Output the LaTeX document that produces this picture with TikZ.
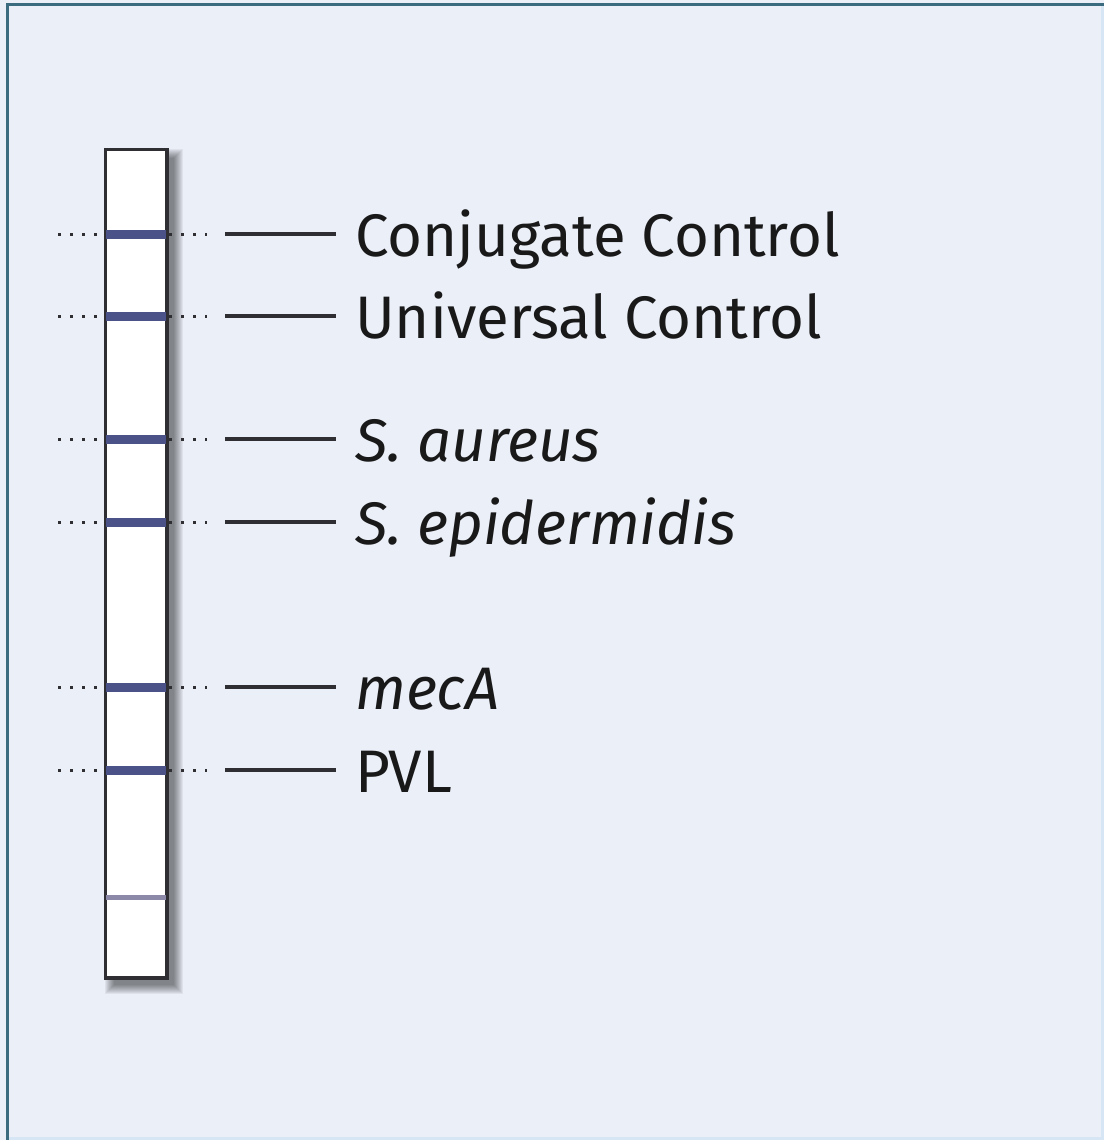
\documentclass[tikz,border=0pt]{standalone}
\usepackage{fontspec}
\setmainfont{Fira Sans}
\definecolor{bgblue}{HTML}{EBEFF8}
\definecolor{frameteal}{HTML}{3B6B7E}
\definecolor{framelight}{HTML}{D6E6F4}
\definecolor{bandblue}{HTML}{4B5287}
\definecolor{bandpale}{HTML}{8C89A8}
\definecolor{inkgrey}{HTML}{2E2E33}
\tikzset{strip/.style={draw=inkgrey,line width=2.5pt,fill=white,minimum width=60pt,
		minimum height=827pt,inner sep=0pt},
	band/.style={bandblue,line width=9pt},
	dots/.style={inkgrey,line width=3pt,dash pattern=on 3pt off 9pt},
	leader/.style={inkgrey,line width=3.4pt},
	tag/.style={anchor=base west,inner sep=0pt,text=black!90,
		font=\fontsize{60}{64}\selectfont}}

\begin{document}
\begin{tikzpicture}
	[x=1pt,y=-1pt]

	% background and frame
	\fill[bgblue] (0,0) rectangle (1104,1140);
	\useasboundingbox (0,0) rectangle (1104,1140);
	\draw[framelight,line width=3pt] (1102,5) -- (1102,1138) -- (7,1138);
	\draw[frameteal,line width=3pt] (7,1140) -- (7,5) -- (1104,5);

	% soft shadow of the strip
	\foreach \s in {0,...,9}
		\fill[black,opacity=0.055] (114-\s,158-\s) rectangle (174+\s,985+\s);

	\node[strip] (strip) at (136,563.5) {};

	\foreach \name/\y/\txt in {cc/234/{Conjugate Control},
			uc/316/{Universal Control},
			sa/439/{\itshape S. aureus},
			se/522/{\itshape S. epidermidis},
			mec/687/{\itshape mecA},
			pvl/770/{PVL}}
		{
			\draw[band] (strip.west |- 0,\y) -- (strip.east |- 0,\y);
			\coordinate (\name-l) at (58,\y);
			\coordinate (\name-r) at (207,\y);
			\coordinate (\name-s) at (225,\y);
			\draw[dots] (\name-l) -- (strip.west |- \name-l);
			\draw[dots] ([xshift=2pt]strip.east |- \name-r) -- (\name-r);
			\node[tag] (\name) at (355,\y+22) {\txt};
			\draw[leader] (\name-s) -- ([xshift=-19pt]\name.west |- \name-s);
		}

	% faint line near the bottom
	\draw[bandpale,line width=5pt] (strip.west |- 0,897) -- (strip.east |- 0,897);
	\draw[inkgrey,line width=2.5pt] (strip.south west) rectangle (strip.north east);
\end{tikzpicture}
\end{document}
